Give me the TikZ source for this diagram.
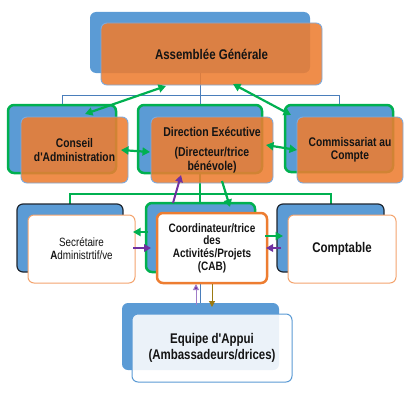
\documentclass[tikz,border=0pt]{standalone}
\usepackage{fontspec}
\newfontfamily\nf[FakeStretch=0.82]{Liberation Sans}
\usetikzlibrary{arrows.meta,calc}
\definecolor{bblue}{HTML}{5B9BD5}
\definecolor{lblue}{HTML}{7FAADB}
\definecolor{lineblue}{HTML}{4A7EBB}
\definecolor{oran}{HTML}{ED7D31}
\definecolor{loran}{HTML}{F4A46E}
\definecolor{ggreen}{HTML}{00B050}
\definecolor{purp}{HTML}{7030A0}
\definecolor{lpurp}{HTML}{A07CC8}
\definecolor{olive}{HTML}{9C7A12}
\definecolor{dark}{HTML}{1E2630}
\definecolor{txt}{HTML}{141414}
\begin{document}
\begin{tikzpicture}[x=1pt,y=-1pt,font=\nf\bfseries,text=txt,
  box/.style={rectangle,rounded corners=6pt,anchor=north west,inner sep=0pt,outer sep=0pt,align=center},
  back/.style={box,fill=bblue},
  backg/.style={back,draw=ggreen,line width=2.5pt},
  backd/.style={back,draw=dark,line width=1.2pt},
  ofront/.style={box,fill=oran,fill opacity=0.88,text opacity=1,draw=lblue,draw opacity=1,line width=0.9pt},
  wfront/.style={box,fill=white,draw=loran,line width=1pt},
  cfront/.style={box,fill=white,draw=oran,line width=2.5pt},
  efront/.style={box,fill=white,fill opacity=0.88,text opacity=1,draw=bblue,draw opacity=1,line width=1pt},
  bluetree/.style={draw=lineblue,line width=0.9pt},
  greentree/.style={draw=ggreen,line width=1.6pt},
  garrow/.style={draw=ggreen,line width=2.2pt,>={Triangle[length=7.5pt,width=8pt]}},
  parrow/.style={draw=purp,line width=2pt,>={Triangle[length=7pt,width=7.5pt]}},
  thinarrow/.style={line width=1pt,>={Triangle[length=6pt,width=6pt]}}]
\useasboundingbox (0,0) rectangle (419,404);
% tree lines
\draw[bluetree] (200,73) -- (200,105);
\draw[bluetree] (62,105) -- (62,95.5) -- (339,95.5) -- (339,105);
\draw[greentree] (200,173) -- (200,203);
\draw[greentree] (70,204) -- (70,194) -- (331,194) -- (331,204);
\draw[bluetree] (200,272) -- (200,303);
% back boxes
\node[back,minimum width=220,minimum height=61] (agb) at (90,12) {};
\node[backg,minimum width=108,minimum height=68] (cab) at (8,105) {};
\node[backg,minimum width=124,minimum height=68] (deb) at (138,105) {};
\node[backg,minimum width=108,minimum height=67] (ccb) at (285,105) {};
\node[backd,minimum width=106,minimum height=68] (sab) at (17,204) {};
\node[backg,minimum width=109,minimum height=69] (cob) at (146,203) {};
\node[backd,minimum width=107,minimum height=68] (cpb) at (277,204) {};
\node[back,minimum width=157,minimum height=67] (eqb) at (122,303) {};
% front boxes
\node[ofront,minimum width=221,minimum height=62,font=\nf\bfseries\fontsize{14}{16}\selectfont] (ag) at (101,23) {Assemblée Générale};
\node[ofront,minimum width=107,minimum height=66,font=\nf\bfseries\fontsize{12.5}{14}\selectfont] (ca) at (21,117) {Conseil\\d'Administration};
\node[ofront,minimum width=122,minimum height=66,font=\nf\bfseries\fontsize{12.8}{14}\selectfont] (de) at (151,117) {Direction Exécutive\\[6pt](Directeur/trice\\bénévole)};
\node[ofront,minimum width=106,minimum height=66,font=\nf\bfseries\fontsize{12.5}{13.5}\selectfont] (cc) at (297,117) {Commissariat au\\Compte};
\node[wfront,minimum width=107,minimum height=68,font=\nf\fontsize{12}{13}\selectfont] (sa) at (28,215) {Secrétaire\\\textbf{A}dministrtif/ve};
\node[cfront,minimum width=110,minimum height=70,font=\nf\bfseries\fontsize{12.2}{12.7}\selectfont] (co) at (157,213) {Coordinateur/trice\\des\\Activités/Projets\\(CAB)};
\node[wfront,minimum width=108,minimum height=68,font=\nf\bfseries\fontsize{14}{16}\selectfont] (cp) at (288,215) {Comptable};
\node[efront,minimum width=160,minimum height=68,font=\nf\bfseries\fontsize{14}{16}\selectfont] (eq) at (132,314) {Equipe d'Appui\\(Ambassadeurs/drices)};
% arrows
\draw[garrow,<->] ($(ag.south west)+(65,1)$) -- ($(ca.north west)+(64,-3)$);
\draw[garrow,<->] ($(ag.south west)+(132,-1)$) -- ($(cc.north west)+(-6,-2)$);
\draw[garrow,<->] ($(ca.east)+(-7,0)$) -- ($(de.west)+(-1,2)$);
\draw[garrow,<->] ($(de.east)+(-7,-5)$) -- (cc.west);
\draw[parrow,->] ($(cob.north west)+(27,0)$) -- ($(de.south west)+(30,-8)$);
\draw[garrow,->] ($(de.south west)+(71,-2)$) -- ($(co.north west)+(73,-6)$);
\draw[garrow,->] ($(cob.west)+(2,-5.5)$) -- ($(sa.east)+(-2,-17)$);
\draw[parrow,->] ($(sa.east)+(-2,-1)$) -- ($(cob.west)+(5,10.5)$);
\draw[garrow,->] ($(co.east)+(-2,-12)$) -- ($(cpb.west)+(6,-2)$);
\draw[parrow,->] ($(cp.west)+(-7,-1)$) -- ($(co.east)+(-1,0)$);
\draw[thinarrow,draw=lpurp,->,>={Triangle[length=6pt,width=6pt,fill=purp]}] ($(eq.north west)+(64,-9)$) -- ($(co.south west)+(39,1)$);
\draw[thinarrow,draw=olive,->] ($(co.south west)+(55,1)$) -- ($(eqb.north west)+(90,4)$);
\end{tikzpicture}
\end{document}
